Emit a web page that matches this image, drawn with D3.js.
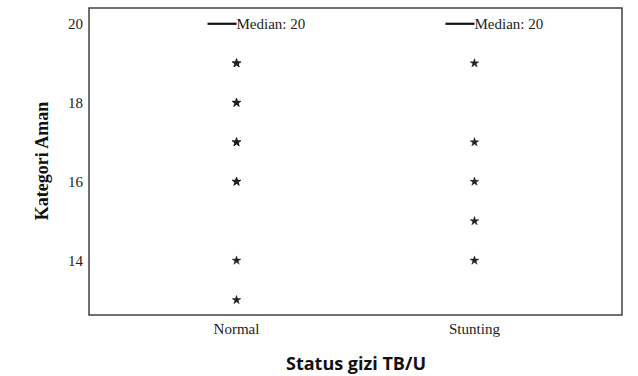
<!DOCTYPE html>
<html>
<head>
<meta charset="utf-8">
<script src="https://cdn.jsdelivr.net/npm/d3@7"></script>
<style>
  body { margin: 0; background: #fff; }
  svg { display: block; }
</style>
</head>
<body>
<svg id="chart" width="638" height="376"></svg>
<script>
// data
const groups = ["Normal", "Stunting"];
const medians = [20, 20];
// repeated values draw over each other (the darker stars)
const normalOutliers = [19, 19, 18, 18, 17, 17, 16, 16, 14, 13];
const stuntingOutliers = [19, 17, 16, 15, 14];
const yTicks = [14, 16, 18, 20];

const svg = d3.select("#chart");
const margin = { top: 8, right: 16, bottom: 61, left: 89 };
const width = 638, height = 376;

const x = d3.scalePoint()
  .domain(groups)
  .range([margin.left, width - margin.right])
  .padding(0.62);

const y = d3.scaleLinear()
  .domain([12.62, 20.4])
  .range([height - margin.bottom, margin.top]);

const serif = "'Liberation Serif', 'DejaVu Serif', serif";

// frame
svg.append("rect")
  .attr("x", margin.left)
  .attr("y", margin.top)
  .attr("width", width - margin.left - margin.right)
  .attr("height", height - margin.top - margin.bottom)
  .attr("fill", "none")
  .attr("stroke", "#333")
  .attr("stroke-width", 1.4);

// y axis labels (no tick marks in the original)
svg.append("g")
  .selectAll("text")
  .data(yTicks)
  .join("text")
  .attr("x", margin.left - 6)
  .attr("y", d => y(d))
  .attr("dy", "0.35em")
  .attr("text-anchor", "end")
  .style("font", `15px ${serif}`)
  .attr("fill", "#222")
  .text(d => d);

// x axis labels
svg.append("g")
  .selectAll("text")
  .data(groups)
  .join("text")
  .attr("x", d => x(d))
  .attr("y", 334)
  .attr("text-anchor", "middle")
  .style("font", `15px ${serif}`)
  .attr("fill", "#222")
  .text(d => d);

// axis titles
svg.append("text")
  .attr("transform", `translate(48,161) rotate(-90)`)
  .attr("text-anchor", "middle")
  .style("font", `bold 18px ${serif}`)
  .attr("fill", "#111")
  .text("Kategori Aman");

svg.append("text")
  .attr("x", 356)
  .attr("y", 370)
  .attr("text-anchor", "middle")
  .style("font", "bold 18px 'Open Sans', 'DejaVu Sans', sans-serif")
  .attr("fill", "#111")
  .text("Status gizi TB/U");

// median markers
const med = svg.append("g")
  .selectAll("g")
  .data(groups.map((g, i) => ({ g, v: medians[i] })))
  .join("g");

med.append("line")
  .attr("x1", d => x(d.g) - 29)
  .attr("x2", d => x(d.g))
  .attr("y1", d => y(d.v))
  .attr("y2", d => y(d.v))
  .attr("stroke", "#111")
  .attr("stroke-width", 2.2);

med.append("text")
  .attr("x", d => x(d.g))
  .attr("y", d => y(d.v))
  .attr("dy", "0.35em")
  .style("font", `15px ${serif}`)
  .attr("fill", "#222")
  .text(d => `Median: ${d.v}`);

// outlier stars; a faint stroke makes stacked duplicates look heavier
const star = d3.symbol().type(d3.symbolStar).size(24);
const points = [
  ...normalOutliers.map(v => ({ g: "Normal", v })),
  ...stuntingOutliers.map(v => ({ g: "Stunting", v }))
];

svg.append("g")
  .selectAll("path")
  .data(points)
  .join("path")
  .attr("transform", d => `translate(${x(d.g)},${y(d.v)})`)
  .attr("d", star)
  .attr("fill", "#222")
  .attr("stroke", "#111")
  .attr("stroke-width", 0.9)
  .attr("stroke-opacity", 0.45);
</script>
</body>
</html>
